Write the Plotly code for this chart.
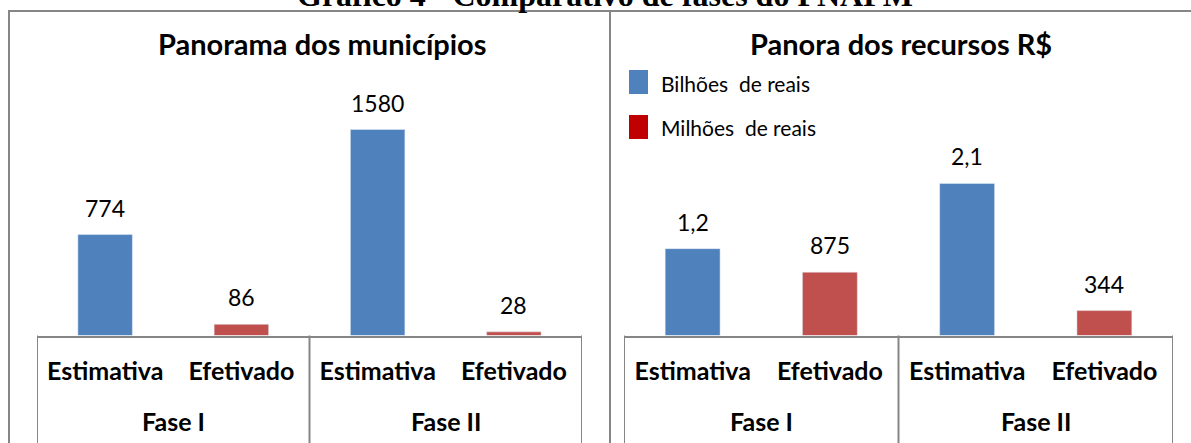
import plotly.graph_objects as go

# ---------------- data ----------------
phases = ["Fase I", "Fase II"]
sub_labels = ["Estimativa", "Efetivado", "Estimativa", "Efetivado"]

# Panel 1: municipalities
mun_estimativa = [774, 1580]
mun_efetivado = [86, 28]

# Panel 2: resources (estimates in billions R$, realised in millions R$)
rec_estimativa_bi = [1.2, 2.1]
rec_efetivado_mi = [875, 344]

title_main = "Gráfico 4 - Comparativo de fases do PNAFM"
title_left = "Panorama dos municípios"
title_right = "Panora dos recursos R$"
legend_names = ["Bilhões\u00a0 de reais", "Milhões\u00a0 de reais"]

BLUE = "#4F81BD"
RED = "#C0504D"
LEG_RED = "#C00000"
GRID = "#868686"
FONT = "Lato"

W, H = 1191, 443


def fx(p):
    return p / W


def fy(p):
    return 1 - p / H


def fmt_br(v):
    return f"{v:.1f}".replace(".", ",")


fig = go.Figure()

est_pos = [0, 2]
efe_pos = [1, 3]

# left panel bars
fig.add_trace(go.Bar(x=est_pos, y=mun_estimativa, marker_color=BLUE, width=0.4,
                     xaxis="x", yaxis="y", showlegend=False, hoverinfo="skip"))
fig.add_trace(go.Bar(x=efe_pos, y=mun_efetivado, marker_color=RED, width=0.4,
                     xaxis="x", yaxis="y", showlegend=False, hoverinfo="skip"))

# right panel bars (millions shown on billion scale)
rec_efetivado_scaled = [v / 1000 for v in rec_efetivado_mi]
fig.add_trace(go.Bar(x=est_pos, y=rec_estimativa_bi, marker_color=BLUE, width=0.4,
                     xaxis="x2", yaxis="y2", showlegend=False, hoverinfo="skip"))
fig.add_trace(go.Bar(x=efe_pos, y=rec_efetivado_scaled, marker_color=RED, width=0.4,
                     xaxis="x2", yaxis="y2", showlegend=False, hoverinfo="skip"))

annotations = []
label_font = dict(family=FONT, size=23, color="#000000")
for xs, ys, txts, xr, yr in [
    (est_pos, mun_estimativa, [str(v) for v in mun_estimativa], "x", "y"),
    (efe_pos, mun_efetivado, [str(v) for v in mun_efetivado], "x", "y"),
    (est_pos, rec_estimativa_bi, [fmt_br(v) for v in rec_estimativa_bi], "x2", "y2"),
    (efe_pos, rec_efetivado_scaled, [str(v) for v in rec_efetivado_mi], "x2", "y2"),
]:
    for x, y, t in zip(xs, ys, txts):
        annotations.append(dict(x=x, y=y, xref=xr, yref=yr, text=t, showarrow=False,
                                xanchor="center", yanchor="middle", yshift=27, font=label_font))

# phase labels
for xr in ["x", "x2"]:
    for i, ph in enumerate(phases):
        annotations.append(dict(x=0.5 + 2 * i, y=fy(421), xref=xr, yref="paper", text=ph,
                                showarrow=False, xanchor="center", yanchor="middle",
                                font=dict(family=FONT, size=25, color="#000000", weight="bold")))

# titles
annotations.append(dict(x=fx(322), y=fy(44), xref="paper", yref="paper", text=title_left,
                        showarrow=False, xanchor="center", yanchor="middle",
                        font=dict(family=FONT, size=29, color="#000000", weight="bold")))
annotations.append(dict(x=fx(901), y=fy(44), xref="paper", yref="paper", text=title_right,
                        showarrow=False, xanchor="center", yanchor="middle",
                        font=dict(family=FONT, size=29, color="#000000", weight="bold")))
annotations.append(dict(x=fx(605), y=fy(15), xref="paper", yref="paper", text=title_main,
                        showarrow=False, xanchor="center", yanchor="bottom",
                        font=dict(family="Liberation Serif", size=32, color="#000000", weight="bold")))

# legend texts
for name, yc in zip(legend_names, [83, 128]):
    annotations.append(dict(x=fx(659), y=fy(yc), xref="paper", yref="paper", text=name,
                            showarrow=False, xanchor="left", yanchor="middle",
                            font=dict(family=FONT, size=21, color="#000000")))

shapes = []
# outer frame
line = dict(color=GRID, width=2)
shapes.append(dict(type="line", xref="paper", yref="paper", x0=fx(8), x1=1.0, y0=fy(11), y1=fy(11), line=line))
shapes.append(dict(type="line", xref="paper", yref="paper", x0=fx(9), x1=fx(9), y0=fy(11), y1=0, line=line))
shapes.append(dict(type="line", xref="paper", yref="paper", x0=fx(610), x1=fx(610), y0=fy(11), y1=0, line=line))
# category dividers
for xr in ["x", "x2"]:
    for xv in [-0.5, 1.5, 3.5]:
        shapes.append(dict(type="line", xref=xr, yref="paper", x0=xv, x1=xv,
                           y0=fy(335.5), y1=0, line=line))
# legend swatches
for col, (t, b) in zip([BLUE, LEG_RED], [(70, 94), (115, 139)]):
    shapes.append(dict(type="rect", xref="paper", yref="paper", x0=fx(629), x1=fx(648),
                       y0=fy(b), y1=fy(t), fillcolor=col, line=dict(width=0)))

base = fy(335.5)
left_scale = 206 / 1580  # px per unit
right_scale = 152 / 2.1

xaxis_common = dict(range=[-0.5, 3.5], tickvals=[0, 1, 2, 3], ticktext=sub_labels,
                    showline=True, linecolor=GRID, linewidth=2, ticks="", showgrid=False,
                    zeroline=False, ticklabelstandoff=12, fixedrange=True,
                    tickfont=dict(family=FONT, size=25, color="#000000", weight="bold"))

fig.update_layout(
    width=W, height=H,
    margin=dict(l=0, r=0, t=0, b=0),
    paper_bgcolor="white", plot_bgcolor="white",
    barmode="overlay",
    showlegend=False,
    hovermode=False,
    xaxis=dict(domain=[fx(37), fx(582)], anchor="y", **xaxis_common),
    xaxis2=dict(domain=[fx(624), fx(1173)], anchor="y2", **xaxis_common),
    yaxis=dict(domain=[base, fy(335.5 - 2000 * left_scale)], range=[0, 2000], visible=False,
               fixedrange=True),
    yaxis2=dict(domain=[base, fy(335.5 - 2.5 * right_scale)], range=[0, 2.5], visible=False,
                anchor="x2", fixedrange=True),
    annotations=annotations,
    shapes=shapes,
)

fig.write_html("out.html", config={"displayModeBar": False},
               post_script="document.body.style.margin='0';")
